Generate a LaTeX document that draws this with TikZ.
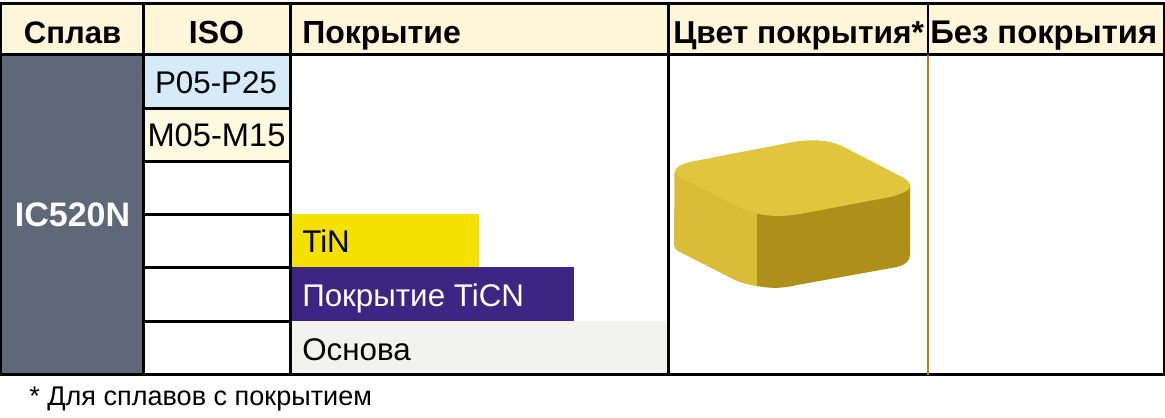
\documentclass[tikz,border=0pt]{standalone}
\usepackage{fontspec}
\setmainfont{Liberation Sans}
\definecolor{headfill}{HTML}{FFF6D9}
\definecolor{alloy}{HTML}{5E6878}
\definecolor{pfill}{HTML}{D5EBF9}
\definecolor{mfill}{HTML}{FEFAE0}
\definecolor{tinfill}{HTML}{F5E100}
\definecolor{ticnfill}{HTML}{3D2683}
\definecolor{basefill}{HTML}{F2F2F0}
\definecolor{orangeline}{HTML}{C47A12}
\definecolor{topface}{HTML}{E1C63D}
\definecolor{leftface}{HTML}{DABD37}
\definecolor{rightface}{HTML}{AD8F1A}
\tikzset{
  x=0.75pt,y=-0.75pt,
  grid/.style={line width=2.25pt,black},
  head/.style={font=\fontsize{24}{28}\selectfont\bfseries,text=black,inner sep=0pt},
  body/.style={font=\fontsize{23.5}{28}\selectfont,text=black,inner sep=0pt},
  note/.style={font=\fontsize{20.3}{24}\selectfont,text=black,inner sep=0pt},
}
\begin{document}
\begin{tikzpicture}
\useasboundingbox (0,0) rectangle (1165,418);
\fill[white] (0,0) rectangle (1165,418);
% fills
\fill[headfill] (1,3) rectangle (1164,54);
\fill[alloy] (1,54) rectangle (143,374);
\fill[pfill] (143,54) rectangle (290,108);
\fill[mfill] (143,108) rectangle (290,161);
\fill[tinfill] (291,214) rectangle (479,267);
\fill[ticnfill] (291,267) rectangle (574,320.5);
\fill[basefill] (291,320.5) rectangle (667,373);
% grid
\draw[grid] (0.5,3) rectangle (1164.2,374);
\draw[grid] (0.5,54) -- (1164.2,54);
\draw[grid] (143,3) -- (143,374);
\draw[grid] (290,3) -- (290,374);
\draw[grid] (668,3) -- (668,374);
\draw[line width=1.5pt,black] (928,3) -- (928,54);
\draw[line width=1.8pt,orangeline] (928,55) -- (928,375);
\foreach \yy in {108,161,214,267,321} \draw[grid] (143,\yy) -- (290,\yy);
% text
\node[head,font=\fontsize{23.3}{28}\selectfont\bfseries,anchor=base] (h1) at (72.5,43) {Сплав};
\node[head,anchor=base] (h2) at (216.5,43) {ISO};
\node[head,anchor=base west] (h3) at (302,43) {Покрытие};
\node[head,font=\fontsize{23.8}{28}\selectfont\bfseries,anchor=base west] (h4) at (673,43) {Цвет покрытия*};
\node[head,font=\fontsize{24.6}{28}\selectfont\bfseries,anchor=base west] (h5) at (930,43) {Без покрытия};
\node[body,anchor=base] (p) at (216,93) {P05-P25};
\node[body,font=\fontsize{24.5}{28}\selectfont,anchor=base] (m) at (216.5,146.5) {M05-M15};
\node[head,font=\fontsize{25.5}{28}\selectfont\bfseries,text=white,anchor=base] (ic) at (72.5,226) {IC520N};
\node[body,anchor=base west] (tin) at (302,252) {TiN};
\node[body,anchor=base west,text=white] (ticn) at (302,306) {Покрытие TiCN};
\node[body,anchor=base west] (base) at (302,360) {Основа};
\node[note,anchor=base west] (fn) at (29,405) {* Для сплавов с покрытием};
% insert
\fill[leftface] (674.5,172) -- (674,245) .. controls (674,248) and (676,250) .. (678,251) -- (735,280) .. controls (744,284) and (751,285) .. (758,286.5) -- (758,200) -- (720,190) -- cycle;
\fill[rightface] (757,205) -- (757,286) .. controls (772,289) and (785,288) .. (797,285) -- (897,267) .. controls (905,265) and (910,261) .. (910,255) -- (910,185) -- (850,180) -- cycle;
\fill[topface] (674.5,172) .. controls (675,167) and (682,164) .. (690,162) -- (788,143) .. controls (808,139) and (826,139) .. (842,146) -- (902,177) .. controls (908,180) and (911,184) .. (910,187) .. controls (909,191) and (901,194) .. (890,197) -- (800,214) .. controls (782,217) and (764,217) .. (745,210) -- (678,176) .. controls (676,175) and (675,174) .. (674.5,172) -- cycle;
\end{tikzpicture}
\end{document}
